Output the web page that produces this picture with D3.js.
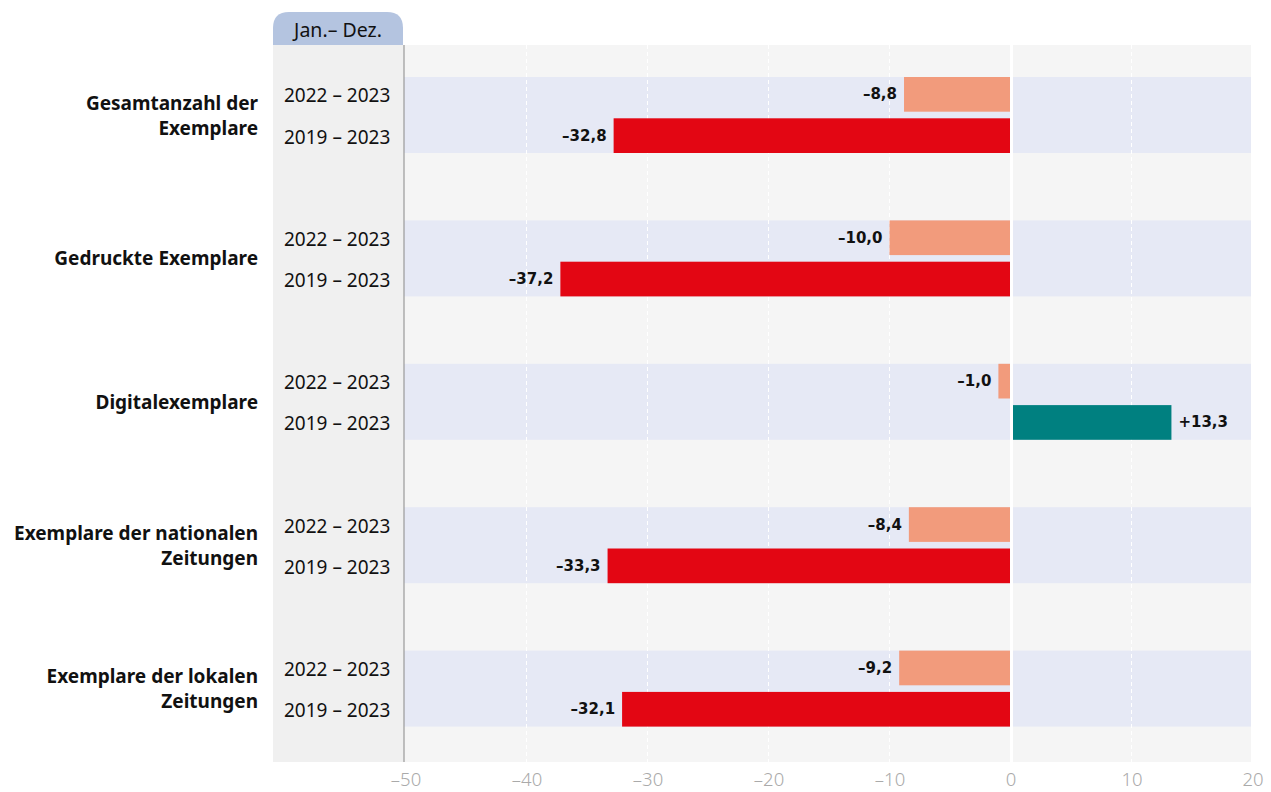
<!DOCTYPE html>
<html><head><meta charset="utf-8">
<script src="https://cdn.jsdelivr.net/npm/d3@7"></script>
<style>body{margin:0;background:#fff;} text{font-family:"Noto Sans","Open Sans",sans-serif;}</style>
</head><body>
<svg id="c" width="1271" height="792"></svg>
<script>
const categories = [["Gesamtanzahl der","Exemplare"],["Gedruckte Exemplare"],["Digitalexemplare"],["Exemplare der nationalen","Zeitungen"],["Exemplare der lokalen","Zeitungen"]];
const periods = ["2022 – 2023","2019 – 2023"];
const values2022 = [-8.8,-10.0,-1.0,-8.4,-9.2];
const values2019 = [-32.8,-37.2,13.3,-33.3,-32.1];
const ticks = [-50,-40,-30,-20,-10,0,10,20];
const header = "Jan.– Dez.";

(function(){
const svg = d3.select("#c");
const pLeft = 404, pRight = 1251, pTop = 45, pBottom = 762, labelLeft = 273;
const x = d3.scaleLinear().domain([-50,20]).range([405.5, 1252.5]);
const y = d3.scaleBand().domain(d3.range(categories.length)).range([pTop, pBottom]);
const fmt = v => (v>0?"+":"–") + d3.format(".1f")(Math.abs(v)).replace(".",",");

svg.append("rect").attr("x",labelLeft).attr("y",pTop).attr("width",pLeft-labelLeft).attr("height",pBottom-pTop).attr("fill","#f0f0f0");
svg.append("rect").attr("x",pLeft).attr("y",pTop).attr("width",pRight-pLeft).attr("height",pBottom-pTop).attr("fill","#f5f5f5");
const hx=labelLeft, hw=pLeft-labelLeft-1, hy=12, hh=pTop-12, r=16;
svg.append("path").attr("d",`M${hx},${hy+hh} V${hy+r} Q${hx},${hy} ${hx+r},${hy} H${hx+hw-r} Q${hx+hw},${hy} ${hx+hw},${hy+r} V${hy+hh} Z`).attr("fill","#b4c4e0");
svg.append("text").attr("x",hx+hw/2).attr("y",hy+hh/2+1).attr("text-anchor","middle").attr("dominant-baseline","central").attr("font-size",19.5).attr("fill","#111").text(header);

const data = categories.map((c,i)=>({cat:c,i,vals:[values2022[i],values2019[i]]}));
const inner = d3.scaleBand().domain(periods).paddingInner(0.16);

data.forEach(d=>{
  const y0 = y(d.i)+32, y1 = y0+76;
  svg.append("rect").attr("x",pLeft).attr("y",y0).attr("width",pRight-pLeft).attr("height",y1-y0).attr("fill","#e6e9f5");
});

svg.append("g").selectAll("line").data(ticks.filter(t=>t!==-50&&t!==0&&t!==20)).join("line")
  .attr("x1",d=>x(d)).attr("x2",d=>x(d)).attr("y1",pTop).attr("y2",pBottom)
  .attr("stroke","#fff").attr("stroke-width",1).attr("stroke-dasharray","4,3");

data.forEach(d=>{
  const y0 = y(d.i)+32, y1 = y0+76;
  inner.range([y0,y1]);
  const g = svg.append("g");
  periods.forEach((p,j)=>{
    const v = d.vals[j];
    const col = j===0 ? "#f29b7c" : (v>0 ? "#008080" : "#e30613");
    const by = inner(p), bh = inner.bandwidth();
    g.append("rect").attr("x",Math.min(x(0),x(v))).attr("y",by).attr("width",Math.abs(x(v)-x(0))).attr("height",bh).attr("fill",col);
    g.append("text").attr("x",v<0? x(v)-7 : x(v)+7).attr("y",by+bh/2).attr("dominant-baseline","central")
      .attr("text-anchor",v<0?"end":"start").attr("font-size",15).attr("font-weight","bold")
      .style("font-family","'DejaVu Sans', sans-serif").attr("fill","#111").text(fmt(v));
    svg.append("text").attr("x",284).attr("y",by+bh/2+1).attr("dominant-baseline","central").attr("font-size",19).attr("fill","#111").text(p);
  });
  const cy = (y0+y1)/2;
  d.cat.forEach((l,k)=>{
    svg.append("text").attr("x",258).attr("y",cy+(k-(d.cat.length-1)/2)*25).attr("dominant-baseline","central")
      .attr("text-anchor","end").attr("font-size",19).attr("font-weight","bold").attr("fill","#111").text(l);
  });
});

svg.append("line").attr("x1",x(0)+1).attr("x2",x(0)+1).attr("y1",pTop).attr("y2",pBottom).attr("stroke","#fff").attr("stroke-width",3);
svg.append("line").attr("x1",pLeft).attr("x2",pLeft).attr("y1",pTop).attr("y2",pBottom).attr("stroke","#999").attr("stroke-width",1.2);

const ax = svg.append("g").attr("transform",`translate(0,${pBottom})`).call(d3.axisBottom(x).tickValues(ticks).tickSize(0).tickPadding(11).tickFormat(t=>t<0?"–"+Math.abs(t):String(t)));
ax.select(".domain").remove();
ax.selectAll("text").attr("font-size",18.5).attr("fill","#aaa").style("font-family","'Noto Sans', sans-serif").attr("font-weight",300);
})();
</script>
</body></html>
